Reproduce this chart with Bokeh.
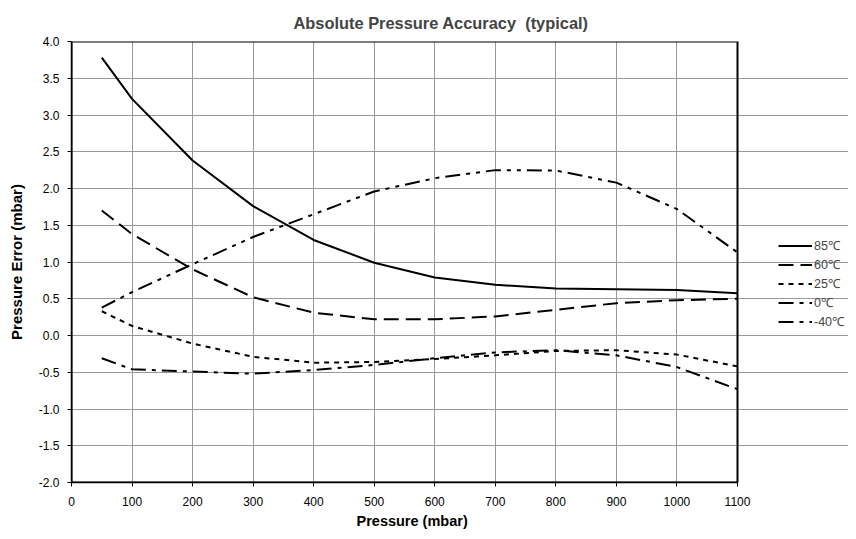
from bokeh.plotting import figure
from bokeh.models import (Range1d, FixedTicker, NumeralTickFormatter, Legend, LegendItem,
                          BoxAnnotation, Title)
from bokeh.embed import file_html
from bokeh.resources import INLINE

pressure = [50, 100, 200, 300, 400, 500, 600, 700, 800, 900, 1000, 1100]
err_85 = [3.78, 3.22, 2.38, 1.76, 1.30, 0.99, 0.79, 0.69, 0.64, 0.63, 0.62, 0.575]
err_60 = [1.70, 1.38, 0.90, 0.52, 0.31, 0.22, 0.22, 0.26, 0.35, 0.44, 0.48, 0.50]
err_25 = [0.33, 0.13, -0.11, -0.29, -0.37, -0.36, -0.32, -0.27, -0.21, -0.20, -0.26, -0.42]
err_0 = [-0.31, -0.46, -0.49, -0.52, -0.47, -0.40, -0.31, -0.23, -0.20, -0.27, -0.43, -0.73]
err_m40 = [0.38, 0.59, 0.97, 1.34, 1.65, 1.96, 2.14, 2.25, 2.245, 2.08, 1.72, 1.13]

labels = ["85\u2103", "60\u2103", "25\u2103", "0\u2103", "-40\u2103"]
x_ticks = [0, 100, 200, 300, 400, 500, 600, 700, 800, 900, 1000, 1100]
y_ticks = [-2.0, -1.5, -1.0, -0.5, 0.0, 0.5, 1.0, 1.5, 2.0, 2.5, 3.0, 3.5, 4.0]
X_MIN, X_MAX = 0, 1100
Y_MIN, Y_MAX = -2.0, 4.0

FONT = "Liberation Sans"

# layout in pixels: data area spans 71..737, the frame is extended to the right
# so the legend (drawn inside the frame) is not clipped
W, H = 848, 531
LEFT, TOP, BOTTOM = 71, 41, 49
DATA_W = 737 - LEFT
frame_w = W - LEFT
x_end = X_MAX * frame_w / DATA_W

p = figure(width=W, height=H, output_backend="svg", toolbar_location=None,
           x_range=Range1d(X_MIN, x_end), y_range=Range1d(Y_MIN, Y_MAX),
           min_border_left=LEFT, min_border_top=TOP, min_border_right=0, min_border_bottom=BOTTOM,
           title="Absolute Pressure Accuracy\u00a0 (typical)")

p.title.text_font = FONT
p.title.text_font_size = "16.4px"
p.title.text_font_style = "bold"
p.title.align = "left"
p.title.offset = 222
p.title.standoff = 20

p.outline_line_color = None
p.background_fill_color = "white"

for ax in (p.xaxis[0], p.yaxis[0]):
    ax.axis_line_color = "black"
    ax.axis_line_width = 1.5
    ax.major_tick_line_color = "black"
    ax.major_tick_out = 4
    ax.major_tick_in = 0
    ax.minor_tick_line_color = None
    ax.major_label_text_font = FONT
    ax.major_label_text_font_size = "12px"
    ax.major_label_text_color = "black"
    ax.axis_label_text_font = FONT
    ax.axis_label_text_font_size = "15px"
    ax.axis_label_text_font_style = "bold"
    ax.axis_label_text_color = "black"

p.xaxis.ticker = FixedTicker(ticks=x_ticks)
p.xaxis.bounds = (X_MIN, X_MAX)
p.yaxis.ticker = FixedTicker(ticks=y_ticks)
p.yaxis.formatter = NumeralTickFormatter(format="0.0")
p.yaxis.axis_label = "Pressure Error (mbar)"
p.xaxis.major_label_standoff = 10
p.yaxis.major_label_standoff = 8
p.yaxis.axis_label_standoff = 11

# x axis title, centred under the data area (not the extended frame)
xtitle = Title(text="Pressure (mbar)", align="left", offset=285, standoff=4,
               text_font=FONT, text_font_size="14.5px", text_font_style="bold",
               text_color="black")
p.add_layout(xtitle, "below")

p.xgrid.ticker = FixedTicker(ticks=x_ticks[1:-1])
p.xgrid.grid_line_color = "#999999"
p.ygrid.grid_line_color = "#999999"
p.ygrid.bounds = (X_MIN, X_MAX)
p.xgrid.grid_line_width = 1
p.ygrid.grid_line_width = 1

# black plot-area border
border = BoxAnnotation(left=X_MIN, right=X_MAX, bottom=Y_MIN, top=Y_MAX,
                       fill_alpha=0, line_color="black", line_width=2, line_alpha=1)
p.add_layout(border)

styles = [
    (err_85, "solid"),
    (err_60, "15 7"),
    (err_25, "5 5"),
    (err_0, "15 6 4 6"),
    (err_m40, "15 6 4 6 4 6"),
]
items = []
for (ys, dash), lab in zip(styles, labels):
    r = p.line(pressure, ys, line_color="black", line_width=2, line_dash=dash)
    items.append(LegendItem(label=lab, renderers=[r]))

legend = Legend(items=items, location=(707, 151), orientation="vertical",
                glyph_width=34, glyph_height=19, label_height=19, label_standoff=2,
                spacing=0, padding=0, margin=0, border_line_color=None,
                background_fill_alpha=0, label_text_font=FONT, label_text_font_size="12.5px")
p.add_layout(legend, "center")

open("out.html", "w").write(file_html(p, INLINE))
